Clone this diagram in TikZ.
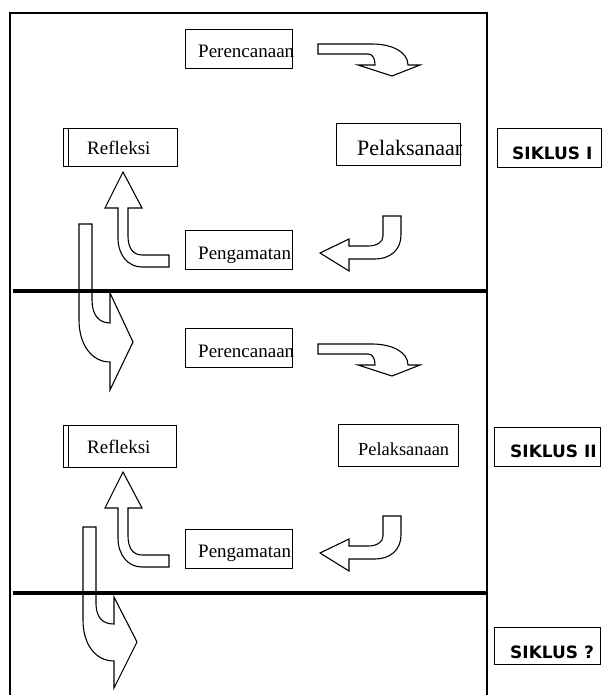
\documentclass[tikz,border=0pt]{standalone}
\usepackage{fontspec}
\setmainfont{Liberation Serif}
\newfontfamily\sikfont{DejaVu Sans}
\begin{document}
\begin{tikzpicture}[x=1pt,y=-1pt,
  box/.style={draw, line width=1.2pt, fill=white, inner sep=0pt, anchor=north west},
  blockarrow/.style={draw, line width=1.1pt, line join=miter},
  sepline/.style={line width=3.6pt},
  framel/.style={line width=1.3pt},
  lbl/.style={anchor=base west, inner sep=0pt, font=\fontsize{19}{19}\selectfont},
  biglbl/.style={anchor=base west, inner sep=0pt, font=\fontsize{22}{22}\selectfont},
  smalllbl/.style={anchor=base west, inner sep=0pt, font=\fontsize{18.4}{18.4}\selectfont},
  siklbl/.style={anchor=base west, inner sep=0pt, font=\sikfont\bfseries\fontsize{17}{17}\selectfont}]
\useasboundingbox (0,0) rectangle (602,695);

% frame
\coordinate (ftl) at (10,13);
\coordinate (ftr) at (487,13);
\coordinate (fbl) at (10,695);
\coordinate (fbr) at (487,695);
\draw[framel] (fbl) -- (ftl) -- (ftr) -- (fbr);

% separators
\coordinate (s1a) at (13,291);
\coordinate (s1b) at (487,291);
\coordinate (s2a) at (13,593);
\coordinate (s2b) at (487,593);
\draw[sepline] (s1a) -- (s1b);
\draw[sepline] (s2a) -- (s2b);

% ---------- cycle I ----------
\node[box, minimum width=107pt, minimum height=39pt] (per1) at (185,29) {};
\begin{scope}\clip (per1.south west) rectangle (per1.north east);
\node[lbl] (tper1) at (198,58) {Perencanaan};\end{scope}

\node[box, minimum width=124pt, minimum height=42pt] (pel1) at (336,123) {};
\begin{scope}\clip (pel1.south west) rectangle (pel1.north east);
\node[biglbl] (tpel1) at (357,156) {Pelaksanaan};\end{scope}

\node[box, minimum width=111pt, minimum height=38pt] (ref1b) at (63,128) {};
\node[box, minimum width=109pt, minimum height=38pt] (ref1) at (68,128) {};
\node[lbl] (tref1) at (87,154) {Refleksi};

\node[box, minimum width=107pt, minimum height=39pt] (pen1) at (185,230) {};
\begin{scope}\clip (pen1.south west) rectangle (pen1.north east);
\node[lbl] (tpen1) at (198,259) {Pengamatan};\end{scope}

\node[box, minimum width=104pt, minimum height=39pt] (sik1) at (497,128) {};
\node[siklbl] (tsik1) at (512,160) {SIKLUS I};

% arrows cycle I
\draw[blockarrow] (318,44) -- (372,44) .. controls (392,44) and (408,52) .. (408,65)
  -- (420,65) -- (392,76) -- (358,65) -- (375,65)
  .. controls (375,59) and (373,54) .. (368,54) -- (318,54) -- cycle;
\draw[blockarrow] (383,216) -- (401,216) -- (401,235)
  .. controls (401,250) and (390,259) .. (375,259) -- (349,259) -- (349,271)
  -- (320,253) -- (349,239) -- (349,246) -- (368,246)
  .. controls (377,246) and (383,242) .. (383,236) -- cycle;
\draw[blockarrow] (169,255) -- (169,267) -- (142,267)
  .. controls (128,267) and (118,255) .. (118,238) -- (118,208) -- (105,208)
  -- (123,172) -- (142,208) -- (128,208) -- (128,236)
  .. controls (128,248) and (133,255) .. (142,255) -- cycle;
\draw[blockarrow] (79,224) -- (92,224) -- (92,300)
  .. controls (92,315) and (99,323) .. (110,323) -- (110,293) -- (133,342)
  -- (110,390) -- (110,362) .. controls (92,362) and (79,345) .. (79,320) -- cycle;

% ---------- cycle II ----------
\node[box, minimum width=107pt, minimum height=39pt] (per2) at (185,328) {};
\begin{scope}\clip (per2.south west) rectangle (per2.north east);
\node[lbl] (tper2) at (198,357) {Perencanaan};\end{scope}

\node[box, minimum width=120pt, minimum height=42pt] (pel2) at (338,424) {};
\node[smalllbl] (tpel2) at (358,455) {Pelaksanaan};

\node[box, minimum width=110pt, minimum height=42pt] (ref2b) at (63,425) {};
\node[box, minimum width=108pt, minimum height=42pt] (ref2) at (68,425) {};
\node[lbl] (tref2) at (87,453) {Refleksi};

\node[box, minimum width=107pt, minimum height=39pt] (pen2) at (185,529) {};
\begin{scope}\clip (pen2.south west) rectangle (pen2.north east);
\node[lbl] (tpen2) at (198,557) {Pengamatan};\end{scope}

\node[box, minimum width=106pt, minimum height=39pt] (sik2) at (494,427) {};
\begin{scope}\clip (sik2.south west) rectangle (sik2.north east);
\node[siklbl] (tsik2) at (510,457) {SIKLUS II};\end{scope}

\node[box, minimum width=106pt, minimum height=37pt] (sik3) at (494,627) {};
\node[siklbl] (tsik3) at (510,658) {SIKLUS ?};

% arrows cycle II
\begin{scope}[shift={(0,300)}]
\draw[blockarrow] (318,44) -- (372,44) .. controls (392,44) and (408,52) .. (408,65)
  -- (420,65) -- (392,76) -- (358,65) -- (375,65)
  .. controls (375,59) and (373,54) .. (368,54) -- (318,54) -- cycle;
\draw[blockarrow] (383,216) -- (401,216) -- (401,235)
  .. controls (401,250) and (390,259) .. (375,259) -- (349,259) -- (349,271)
  -- (320,253) -- (349,239) -- (349,246) -- (368,246)
  .. controls (377,246) and (383,242) .. (383,236) -- cycle;
\draw[blockarrow] (169,255) -- (169,267) -- (142,267)
  .. controls (128,267) and (118,255) .. (118,238) -- (118,208) -- (105,208)
  -- (123,172) -- (142,208) -- (128,208) -- (128,236)
  .. controls (128,248) and (133,255) .. (142,255) -- cycle;
\end{scope}
\draw[blockarrow] (83,527) -- (96,527) -- (96,603)
  .. controls (96,618) and (103,624) .. (114,624) -- (114,597) -- (137,642)
  -- (114,688) -- (114,661) .. controls (96,661) and (83,645) .. (83,620) -- cycle;
\end{tikzpicture}
\end{document}
